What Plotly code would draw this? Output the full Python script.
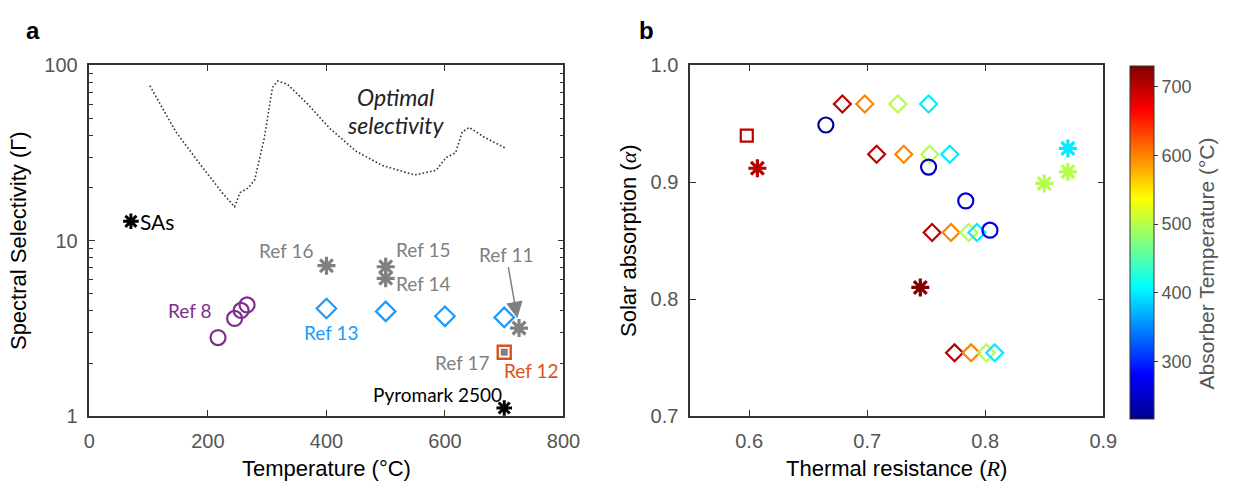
import numpy as np
import plotly.graph_objects as go

# ---------------- Panel a: spectral selectivity vs temperature ----------------
opt_T = [102, 146, 190, 224, 245, 254, 268, 279, 295, 309, 318, 334, 367, 406,
         450, 494, 549, 585, 602, 618, 629, 641, 665, 701]
opt_G = [76.6, 41.7, 26.4, 18.8, 15.6, 18.8, 20.0, 22.3, 38.4, 75.0, 81.5, 78.2,
         60.8, 43.6, 32.4, 26.9, 23.7, 25.2, 29.8, 31.8, 41.7, 44.3, 39.2, 33.9]

sas_T, sas_G = [70], [12.9]
ref8_T, ref8_G = [217, 245, 256, 266], [2.8, 3.6, 4.0, 4.3]
ref13_T, ref13_G = [400, 500, 600, 700], [4.1, 3.95, 3.7, 3.65]
ref16_T, ref16_G = [400], [7.2]
ref15_T, ref15_G = [500], [7.1]
ref14_T, ref14_G = [500], [6.1]
ref11_T, ref11_G = [725], [3.17]
ref12_T, ref12_G = [700], [2.31]
ref17_T, ref17_G = [700], [2.31]
pyro_T, pyro_G = [700], [1.11]

# ---------------- Panel b: solar absorption vs thermal resistance ----------------
dia_R = [0.679, 0.698, 0.726, 0.752,
         0.708, 0.731, 0.753, 0.770,
         0.755, 0.771, 0.786, 0.793,
         0.774, 0.788, 0.801, 0.808]
dia_A = [0.967] * 4 + [0.924] * 4 + [0.857] * 4 + [0.754] * 4
dia_T = [700, 600, 500, 400] * 4

circ_R = [0.665, 0.752, 0.7835, 0.804]
circ_A = [0.949, 0.913, 0.884, 0.859]
circ_T = [217, 245, 256, 266]

star_R = [0.607, 0.745, 0.870, 0.870, 0.850]
star_A = [0.912, 0.810, 0.929, 0.909, 0.899]
star_T = [700, 730, 400, 500, 500]

sq_R, sq_A, sq_T = [0.598], [0.940], [700]

# MATLAB-style jet colour map
jet = [[0.0, 'rgb(0,0,143)'], [0.125, 'rgb(0,0,255)'], [0.375, 'rgb(0,255,255)'],
       [0.625, 'rgb(255,255,0)'], [0.875, 'rgb(255,0,0)'], [1.0, 'rgb(128,0,0)']]

GRAY = 'rgb(128,128,128)'
PURPLE = 'rgb(126,47,142)'
BLUE = 'rgb(25,155,255)'
ORANGE = 'rgb(217,83,25)'
AX = '#333333'
TICKC = '#555555'
LABEL_FONT = 'Lato'
AXIS_FONT = 'Liberation Sans'

fig = go.Figure()

# optimal selectivity curve (fine dotted line)
fig.add_trace(go.Scatter(x=opt_T, y=opt_G, mode='lines',
                         line=dict(color=AX, width=1.6, dash='1.6px,2.2px'),
                         xaxis='x', yaxis='y', hoverinfo='skip'))


def pts(x, y, symbol, color, size, lw=2.2, xa='x', ya='y'):
    fig.add_trace(go.Scatter(x=x, y=y, mode='markers', xaxis=xa, yaxis=ya,
                             marker=dict(symbol=symbol, color=color, size=size,
                                         line=dict(width=lw, color=color))))


pts(sas_T, sas_G, 'asterisk-open', 'black', 13, 3)
pts(ref8_T, ref8_G, 'circle-open', PURPLE, 15)
pts(ref13_T, ref13_G, 'diamond-open', BLUE, 15)
pts(ref16_T + ref15_T + ref14_T + ref11_T, ref16_G + ref15_G + ref14_G + ref11_G,
    'asterisk-open', GRAY, 15, 3.2)
pts(ref12_T, ref12_G, 'square-open', ORANGE, 13, 2.4)
pts(ref17_T, ref17_G, 'square', GRAY, 7, 0)
pts(pyro_T, pyro_G, 'asterisk-open', 'black', 13, 3)

# panel b markers coloured by absorber temperature
def cpts(x, y, t, symbol, size, lw=2.2):
    fig.add_trace(go.Scatter(x=x, y=y, mode='markers', xaxis='x2', yaxis='y2',
                             marker=dict(symbol=symbol, color=t, coloraxis='coloraxis',
                                         size=size, line=dict(width=lw))))


cpts(dia_R, dia_A, dia_T, 'diamond-open', 13)
cpts(circ_R, circ_A, circ_T, 'circle-open', 15)
cpts(star_R, star_A, star_T, 'asterisk-open', 15, 3.2)
cpts(sq_R, sq_A, sq_T, 'square-open', 12)

lg = np.log10
ann = []


def label(text, x, y, color, xanchor, xshift, yshift, size=19, font=LABEL_FONT, italic=False):
    ann.append(dict(text=text, x=x, y=lg(y), xref='x', yref='y', showarrow=False,
                    xanchor=xanchor, yanchor='middle', xshift=xshift, yshift=yshift,
                    font=dict(family=font, size=size, color=color,
                              style='italic' if italic else 'normal')))


label('SAs', sas_T[0], sas_G[0], 'black', 'left', 7, 0, size=21)
label('Ref 8', ref8_T[0], ref8_G[0], PURPLE, 'right', -5, 27)
label('Ref 13', ref13_T[0], ref13_G[0], BLUE, 'center', 5, -24)
label('Ref 16', ref16_T[0], ref16_G[0], GRAY, 'right', -11, 15)
label('Ref 15', ref15_T[0], ref15_G[0], GRAY, 'left', 8, 17)
label('Ref 14', ref14_T[0], ref14_G[0], GRAY, 'left', 8, -5)
label('Ref 17', ref17_T[0], ref17_G[0], GRAY, 'right', -13, -10)
label('Ref 12', ref12_T[0], ref12_G[0], ORANGE, 'left', -2, -18)
label('Pyromark 2500', pyro_T[0], pyro_G[0], 'black', 'right', 0, 13)

# Ref 11 label with arrow to its marker
ann.append(dict(text='Ref 11', x=ref11_T[0], y=lg(ref11_G[0]), xref='x', yref='y',
                showarrow=True, ax=-13, ay=-74, axref='pixel', ayref='pixel',
                arrowhead=2, arrowsize=2.2, arrowwidth=1.5, arrowcolor=GRAY,
                standoff=10, font=dict(family=LABEL_FONT, size=19, color=GRAY)))

# optimal selectivity caption
for txt, yy in [('Optimal', 66), ('selectivity', 46)]:
    ann.append(dict(text=txt, x=516, y=lg(yy), xref='x', yref='y', showarrow=False,
                    xanchor='center', yanchor='middle',
                    font=dict(family=LABEL_FONT, size=23, color='#222', style='italic')))

# panel letters
ann.append(dict(text='<b>a</b>', x=27 / 1242, y=1 - 20 / 489, xref='paper', yref='paper',
                showarrow=False, xanchor='center', yanchor='middle',
                font=dict(family=AXIS_FONT, size=24, color='black')))
ann.append(dict(text='<b>b</b>', x=653 / 1242, y=1 - 20 / 489, xref='paper', yref='paper',
                showarrow=False, xanchor='center', yanchor='middle',
                font=dict(family=AXIS_FONT, size=24, color='black')))

# colour bar title
ann.append(dict(text='Absorber Temperature (°C)', x=1223 / 1242, y=1 - 264 / 489,
                xref='paper', yref='paper', showarrow=False, textangle=-90,
                xanchor='center', yanchor='middle',
                font=dict(family=AXIS_FONT, size=21, color='#555')))

common = dict(showline=True, linecolor=AX, linewidth=1.5, mirror='ticks', ticks='inside',
              ticklen=6, tickwidth=1.2, tickcolor=AX, showgrid=False, zeroline=False,
              tickfont=dict(family=AXIS_FONT, size=20, color=TICKC),
              ticklabelstandoff=6)
title_font = dict(family=AXIS_FONT, size=22, color='black')

ydom = [1 - 424 / 489, 1 - 57 / 489]

fig.update_layout(
    width=1242, height=489,
    margin=dict(l=0, r=0, t=0, b=0),
    paper_bgcolor='white', plot_bgcolor='white',
    showlegend=False,
    annotations=ann,
    xaxis=dict(domain=[85 / 1242, 568 / 1242], range=[0, 800], anchor='y',
               tickvals=[0, 200, 400, 600, 800],
               title=dict(text='Temperature (°C)', font=title_font, standoff=10),
               **common),
    yaxis=dict(domain=ydom, type='log', range=[0, 2], anchor='x',
               tickvals=[1, 10, 100], ticktext=['1', '10', '100'],
               minor=dict(ticks='inside', ticklen=3.5, tickcolor=AX,
                          tickvals=[2, 3, 4, 5, 6, 7, 8, 9, 20, 30, 40, 50, 60, 70, 80, 90]),
               title=dict(text='Spectral Selectivity (Γ)', font=title_font, standoff=12),
               **common),
    xaxis2=dict(domain=[697 / 1242, 1118 / 1242], range=[0.55, 0.9], anchor='y2',
                tickvals=[0.6, 0.7, 0.8, 0.9], ticktext=['0.6', '0.7', '0.8', '0.9'],
                title=dict(text="Thermal resistance (<span style='font-family:Liberation Serif'><i>R</i></span>)",
                           font=title_font, standoff=10),
                **common),
    yaxis2=dict(domain=ydom, range=[0.7, 1.0], anchor='x2',
                tickvals=[0.7, 0.8, 0.9, 1.0], ticktext=['0.7', '0.8', '0.9', '1.0'],
                title=dict(text="Solar absorption (<span style='font-family:Liberation Serif'><i>α</i></span>)",
                           font=title_font, standoff=8),
                **common),
    coloraxis=dict(colorscale=jet,
                   colorbar=dict(x=1145 / 1242, xanchor='left', xpad=0, ypad=0,
                                 y=1 - 427 / 489, yanchor='bottom', lenmode='fraction',
                                 len=370 / 489, thickness=24, outlinecolor=AX,
                                 outlinewidth=1, ticks='outside', ticklen=4,
                                 tickcolor=AX, tickvals=[300, 400, 500, 600, 700],
                                 tickfont=dict(family=AXIS_FONT, size=18, color=TICKC))),
)

fig.write_html('out.html')
